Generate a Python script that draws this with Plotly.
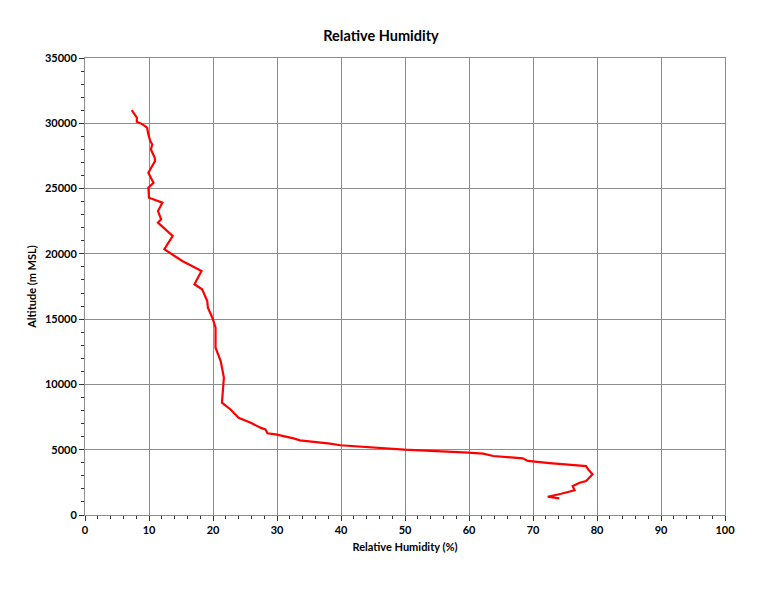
import plotly.graph_objects as go

# relative humidity (%) vs altitude (m MSL), from launch upward
rh = [74.1, 72.3, 74.4, 76.5, 76.2, 77.3, 78.3, 79.3, 78.6, 78.3, 72.6, 69.2, 68.4,
      63.8, 62.2, 59.9, 49.9, 42.5, 39.9, 38.3, 33.6, 32.6, 29.8, 28.5, 28.2, 27.4,
      25.9, 24.0, 22.7, 21.4, 21.6, 21.7, 21.2, 20.4, 20.4, 19.9, 19.2, 19.1, 18.3,
      17.1, 18.2, 15.2, 12.4, 13.7, 11.4, 11.9, 11.4, 12.1, 10.0, 9.9, 10.7, 10.3,
      9.9, 10.5, 10.95, 10.9, 10.3, 10.5, 10.2, 9.9, 9.7, 9.0, 8.1, 8.1, 7.7, 7.3]
alt = [1280, 1400, 1630, 1890, 2220, 2470, 2600, 3120, 3500, 3750, 3980, 4140, 4340,
       4520, 4700, 4770, 5000, 5210, 5340, 5460, 5720, 5870, 6180, 6260, 6560, 6690,
       7070, 7450, 8100, 8600, 9750, 10520, 11790, 12810, 14350, 15110, 15880, 16390, 17290,
       17670, 18690, 19450, 20350, 21370, 22390, 22650, 23280, 23920, 24300, 25070, 25450, 25830,
       26210, 26730, 27110, 27350, 27990, 28390, 28640, 29150, 29660, 29920, 30120, 30430, 30690, 31000]

fig = go.Figure()
fig.add_trace(go.Scatter(x=rh, y=alt, mode="lines",
                         line=dict(color="#ff0000", width=2.2), showlegend=False))

# page body adds ~7px offset, so margins are shifted to compensate
fnt = dict(family="Lato, Carlito, Arial", size=11, color="black")
fig.update_layout(
    width=768, height=593,
    paper_bgcolor="white", plot_bgcolor="white",
    margin=dict(l=77, r=51, t=50, b=86, autoexpand=False),
    font=fnt,
    title=dict(text="<b>Relative Humidity</b>", x=373 / 768, xanchor="center",
               y=1 - 28 / 593, yanchor="middle", font=dict(size=14.5)),
)
fig.update_xaxes(
    range=[0, 100], dtick=10, showgrid=True, gridcolor="#8c8c8c", gridwidth=1,
    showline=True, linecolor="#8c8c8c", linewidth=1, mirror=True,
    ticks="outside", ticklen=5, tickcolor="#333", tickwidth=1,
    minor=dict(dtick=2, ticks="outside", ticklen=3, tickcolor="#333", showgrid=False),
    tickfont=dict(size=11), tickprefix="<b>", ticksuffix="</b>",
    title=dict(text="<b>Relative Humidity (%)</b>", font=dict(size=11), standoff=8),
    zeroline=False, automargin=False,
)
fig.update_yaxes(
    range=[0, 35000], dtick=5000, tickformat="d", showgrid=True, gridcolor="#8c8c8c", gridwidth=1,
    showline=True, linecolor="#8c8c8c", linewidth=1, mirror=True,
    ticks="outside", ticklen=5, tickcolor="#333", tickwidth=1,
    minor=dict(dtick=1000, ticks="outside", ticklen=3, tickcolor="#333", showgrid=False),
    tickfont=dict(size=11), tickprefix="<b>", ticksuffix="</b>",
    title=dict(text="<b>Altitude (m MSL)</b>", font=dict(size=11), standoff=6),
    zeroline=False, automargin=False,
)

fig.write_html("out.html")
